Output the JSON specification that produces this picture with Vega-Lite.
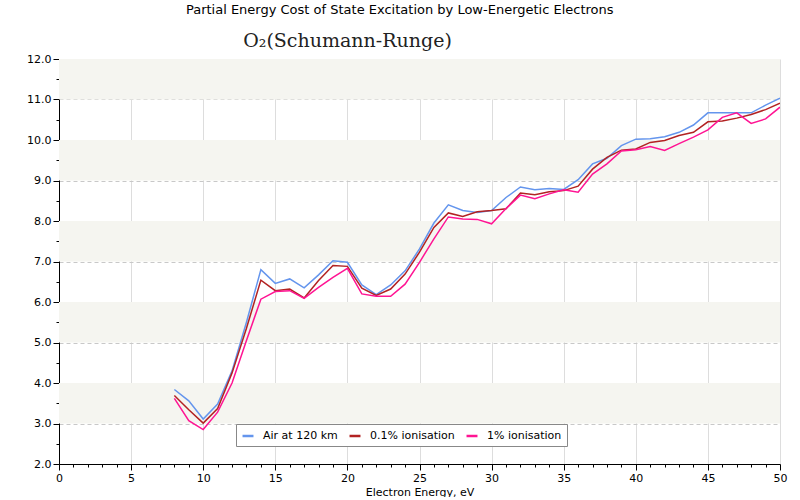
{
  "$schema": "https://vega.github.io/schema/vega-lite/v6.json",
  "background": "white",
  "padding": {"left": 26, "top": 4, "right": 15, "bottom": 0},
  "title": {"text": "Partial Energy Cost of State Excitation by Low-Energetic Electrons", "font": "DejaVu Sans", "fontSize": 13, "fontWeight": "normal", "color": "#000", "anchor": "middle", "offset": 15, "dx": -7},
  "config": {
    "view": {"stroke": null},
    "concat": {"spacing": 0},
    "axis": {"domainColor": "#000", "tickColor": "#000", "labelColor": "#000", "labelFont": "DejaVu Sans", "labelFontSize": 11, "titleFont": "DejaVu Sans", "titleFontSize": 11, "titleFontWeight": "normal", "titleColor": "#000", "zindex": 1},
    "legend": {"labelFont": "DejaVu Sans", "labelFontSize": 11, "labelColor": "#000"}
  },
  "datasets": {
    "bands": [
      {"lo": 3, "hi": 4}, {"lo": 5, "hi": 6}, {"lo": 7, "hi": 8}, {"lo": 9, "hi": 10}, {"lo": 11, "hi": 12}
    ],
    "d": [
      {"E": 8, "s": "Air at 120 km", "v": 3.84}, {"E": 9, "s": "Air at 120 km", "v": 3.56}, {"E": 10, "s": "Air at 120 km", "v": 3.11}, {"E": 11, "s": "Air at 120 km", "v": 3.48}, {"E": 12, "s": "Air at 120 km", "v": 4.30}, {"E": 13, "s": "Air at 120 km", "v": 5.50}, {"E": 14, "s": "Air at 120 km", "v": 6.80}, {"E": 15, "s": "Air at 120 km", "v": 6.46}, {"E": 16, "s": "Air at 120 km", "v": 6.57}, {"E": 17, "s": "Air at 120 km", "v": 6.35}, {"E": 18, "s": "Air at 120 km", "v": 6.67}, {"E": 19, "s": "Air at 120 km", "v": 7.02}, {"E": 20, "s": "Air at 120 km", "v": 6.98}, {"E": 21, "s": "Air at 120 km", "v": 6.42}, {"E": 22, "s": "Air at 120 km", "v": 6.18}, {"E": 23, "s": "Air at 120 km", "v": 6.42}, {"E": 24, "s": "Air at 120 km", "v": 6.77}, {"E": 25, "s": "Air at 120 km", "v": 7.31}, {"E": 26, "s": "Air at 120 km", "v": 7.95}, {"E": 27, "s": "Air at 120 km", "v": 8.40}, {"E": 28, "s": "Air at 120 km", "v": 8.26}, {"E": 29, "s": "Air at 120 km", "v": 8.21}, {"E": 30, "s": "Air at 120 km", "v": 8.26}, {"E": 31, "s": "Air at 120 km", "v": 8.58}, {"E": 32, "s": "Air at 120 km", "v": 8.84}, {"E": 33, "s": "Air at 120 km", "v": 8.77}, {"E": 34, "s": "Air at 120 km", "v": 8.80}, {"E": 35, "s": "Air at 120 km", "v": 8.78}, {"E": 36, "s": "Air at 120 km", "v": 9.02}, {"E": 37, "s": "Air at 120 km", "v": 9.41}, {"E": 38, "s": "Air at 120 km", "v": 9.55}, {"E": 39, "s": "Air at 120 km", "v": 9.86}, {"E": 40, "s": "Air at 120 km", "v": 10.02}, {"E": 41, "s": "Air at 120 km", "v": 10.03}, {"E": 42, "s": "Air at 120 km", "v": 10.08}, {"E": 43, "s": "Air at 120 km", "v": 10.19}, {"E": 44, "s": "Air at 120 km", "v": 10.37}, {"E": 45, "s": "Air at 120 km", "v": 10.67}, {"E": 46, "s": "Air at 120 km", "v": 10.67}, {"E": 47, "s": "Air at 120 km", "v": 10.67}, {"E": 48, "s": "Air at 120 km", "v": 10.67}, {"E": 49, "s": "Air at 120 km", "v": 10.86}, {"E": 50, "s": "Air at 120 km", "v": 11.03},
      {"E": 8, "s": "0.1% ionisation", "v": 3.69}, {"E": 9, "s": "0.1% ionisation", "v": 3.34}, {"E": 10, "s": "0.1% ionisation", "v": 3.01}, {"E": 11, "s": "0.1% ionisation", "v": 3.37}, {"E": 12, "s": "0.1% ionisation", "v": 4.25}, {"E": 13, "s": "0.1% ionisation", "v": 5.35}, {"E": 14, "s": "0.1% ionisation", "v": 6.54}, {"E": 15, "s": "0.1% ionisation", "v": 6.28}, {"E": 16, "s": "0.1% ionisation", "v": 6.32}, {"E": 17, "s": "0.1% ionisation", "v": 6.10}, {"E": 18, "s": "0.1% ionisation", "v": 6.53}, {"E": 19, "s": "0.1% ionisation", "v": 6.90}, {"E": 20, "s": "0.1% ionisation", "v": 6.88}, {"E": 21, "s": "0.1% ionisation", "v": 6.34}, {"E": 22, "s": "0.1% ionisation", "v": 6.16}, {"E": 23, "s": "0.1% ionisation", "v": 6.32}, {"E": 24, "s": "0.1% ionisation", "v": 6.69}, {"E": 25, "s": "0.1% ionisation", "v": 7.23}, {"E": 26, "s": "0.1% ionisation", "v": 7.84}, {"E": 27, "s": "0.1% ionisation", "v": 8.20}, {"E": 28, "s": "0.1% ionisation", "v": 8.11}, {"E": 29, "s": "0.1% ionisation", "v": 8.23}, {"E": 30, "s": "0.1% ionisation", "v": 8.26}, {"E": 31, "s": "0.1% ionisation", "v": 8.30}, {"E": 32, "s": "0.1% ionisation", "v": 8.69}, {"E": 33, "s": "0.1% ionisation", "v": 8.65}, {"E": 34, "s": "0.1% ionisation", "v": 8.72}, {"E": 35, "s": "0.1% ionisation", "v": 8.75}, {"E": 36, "s": "0.1% ionisation", "v": 8.86}, {"E": 37, "s": "0.1% ionisation", "v": 9.28}, {"E": 38, "s": "0.1% ionisation", "v": 9.57}, {"E": 39, "s": "0.1% ionisation", "v": 9.75}, {"E": 40, "s": "0.1% ionisation", "v": 9.78}, {"E": 41, "s": "0.1% ionisation", "v": 9.94}, {"E": 42, "s": "0.1% ionisation", "v": 9.99}, {"E": 43, "s": "0.1% ionisation", "v": 10.11}, {"E": 44, "s": "0.1% ionisation", "v": 10.19}, {"E": 45, "s": "0.1% ionisation", "v": 10.45}, {"E": 46, "s": "0.1% ionisation", "v": 10.47}, {"E": 47, "s": "0.1% ionisation", "v": 10.54}, {"E": 48, "s": "0.1% ionisation", "v": 10.63}, {"E": 49, "s": "0.1% ionisation", "v": 10.75}, {"E": 50, "s": "0.1% ionisation", "v": 10.91},
      {"E": 8, "s": "1% ionisation", "v": 3.62}, {"E": 9, "s": "1% ionisation", "v": 3.07}, {"E": 10, "s": "1% ionisation", "v": 2.85}, {"E": 11, "s": "1% ionisation", "v": 3.28}, {"E": 12, "s": "1% ionisation", "v": 4.00}, {"E": 13, "s": "1% ionisation", "v": 5.05}, {"E": 14, "s": "1% ionisation", "v": 6.07}, {"E": 15, "s": "1% ionisation", "v": 6.26}, {"E": 16, "s": "1% ionisation", "v": 6.28}, {"E": 17, "s": "1% ionisation", "v": 6.09}, {"E": 18, "s": "1% ionisation", "v": 6.36}, {"E": 19, "s": "1% ionisation", "v": 6.61}, {"E": 20, "s": "1% ionisation", "v": 6.83}, {"E": 21, "s": "1% ionisation", "v": 6.20}, {"E": 22, "s": "1% ionisation", "v": 6.14}, {"E": 23, "s": "1% ionisation", "v": 6.14}, {"E": 24, "s": "1% ionisation", "v": 6.44}, {"E": 25, "s": "1% ionisation", "v": 6.98}, {"E": 26, "s": "1% ionisation", "v": 7.56}, {"E": 27, "s": "1% ionisation", "v": 8.10}, {"E": 28, "s": "1% ionisation", "v": 8.05}, {"E": 29, "s": "1% ionisation", "v": 8.04}, {"E": 30, "s": "1% ionisation", "v": 7.93}, {"E": 31, "s": "1% ionisation", "v": 8.31}, {"E": 32, "s": "1% ionisation", "v": 8.64}, {"E": 33, "s": "1% ionisation", "v": 8.55}, {"E": 34, "s": "1% ionisation", "v": 8.67}, {"E": 35, "s": "1% ionisation", "v": 8.77}, {"E": 36, "s": "1% ionisation", "v": 8.71}, {"E": 37, "s": "1% ionisation", "v": 9.16}, {"E": 38, "s": "1% ionisation", "v": 9.41}, {"E": 39, "s": "1% ionisation", "v": 9.73}, {"E": 40, "s": "1% ionisation", "v": 9.76}, {"E": 41, "s": "1% ionisation", "v": 9.84}, {"E": 42, "s": "1% ionisation", "v": 9.74}, {"E": 43, "s": "1% ionisation", "v": 9.91}, {"E": 44, "s": "1% ionisation", "v": 10.07}, {"E": 45, "s": "1% ionisation", "v": 10.25}, {"E": 46, "s": "1% ionisation", "v": 10.56}, {"E": 47, "s": "1% ionisation", "v": 10.67}, {"E": 48, "s": "1% ionisation", "v": 10.41}, {"E": 49, "s": "1% ionisation", "v": 10.52}, {"E": 50, "s": "1% ionisation", "v": 10.81}
    ]
  },
  "vconcat": [
    {
      "width": 721,
      "height": 405,
      "title": {"text": "O₂(Schumann-Runge)", "font": "DejaVu Serif", "fontSize": 19, "fontWeight": "normal", "color": "#222", "anchor": "middle", "dx": -72, "offset": 2},
      "layer": [
        {
          "data": {"name": "bands"},
          "mark": {"type": "rect", "color": "#f5f5f0"},
          "encoding": {
            "y": {
              "field": "lo", "type": "quantitative",
              "scale": {"domain": [2, 12], "nice": false},
              "axis": {
                "values": [2,2.5,3,3.5,4,4.5,5,5.5,6,6.5,7,7.5,8,8.5,9,9.5,10,10.5,11,11.5,12],
                "labelExpr": "datum.value % 1 === 0 ? format(datum.value, '.1f') : ''",
                "tickSize": {"condition": {"test": "datum.value % 1 === 0", "value": 6}, "value": 3},
                "gridOpacity": {"condition": {"test": "datum.value % 1 === 0", "value": 1}, "value": 0},
                "grid": true,
                "gridColor": "#c8c8c8",
                "gridDash": [4, 3],
                "labelPadding": 2,
                "labelFlush": false,
                "title": null
              }
            },
            "y2": {"field": "hi"}
          }
        },
        {
          "data": {"name": "d"},
          "mark": {"type": "line", "strokeWidth": 1.5, "clip": true},
          "encoding": {
            "x": {
              "field": "E", "type": "quantitative",
              "scale": {"domain": [0, 50], "nice": false},
              "axis": {
                "values": [0,1,2,3,4,5,6,7,8,9,10,11,12,13,14,15,16,17,18,19,20,21,22,23,24,25,26,27,28,29,30,31,32,33,34,35,36,37,38,39,40,41,42,43,44,45,46,47,48,49,50],
                "labelExpr": "datum.value % 5 === 0 ? datum.label : ''",
                "tickSize": {"condition": {"test": "datum.value % 5 === 0", "value": 6}, "value": 3},
                "gridOpacity": {"condition": {"test": "datum.value % 5 === 0", "value": 1}, "value": 0},
                "grid": true,
                "gridColor": "#dddddd",
                "labelPadding": 2,
                "labelFlush": false,
                "title": "Electron Energy, eV",
                "titlePadding": 3
              }
            },
            "y": {
              "field": "v", "type": "quantitative",
              "scale": {"domain": [2, 12], "nice": false},
              "axis": {
                "values": [2,2.5,3,3.5,4,4.5,5,5.5,6,6.5,7,7.5,8,8.5,9,9.5,10,10.5,11,11.5,12],
                "labelExpr": "datum.value % 1 === 0 ? format(datum.value, '.1f') : ''",
                "tickSize": {"condition": {"test": "datum.value % 1 === 0", "value": 6}, "value": 3},
                "gridOpacity": {"condition": {"test": "datum.value % 1 === 0", "value": 1}, "value": 0},
                "grid": true,
                "gridColor": "#c8c8c8",
                "gridDash": [4, 3],
                "labelPadding": 2,
                "labelFlush": false,
                "title": null
              }
            },
            "color": {
              "field": "s", "type": "nominal",
              "scale": {"domain": ["Air at 120 km", "0.1% ionisation", "1% ionisation"], "range": ["#6495ed", "#b22222", "#ff1493"]},
              "legend": {
                "orient": "none", "legendX": 177, "legendY": 365,
                "direction": "horizontal", "title": null,
                "strokeColor": "#888", "fillColor": "white", "padding": 5,
                "symbolType": "stroke", "symbolStrokeWidth": 2.5, "symbolSize": 120,
                "columnPadding": 6, "labelOffset": 8
              }
            }
          }
        }
      ]
    }
  ]
}
